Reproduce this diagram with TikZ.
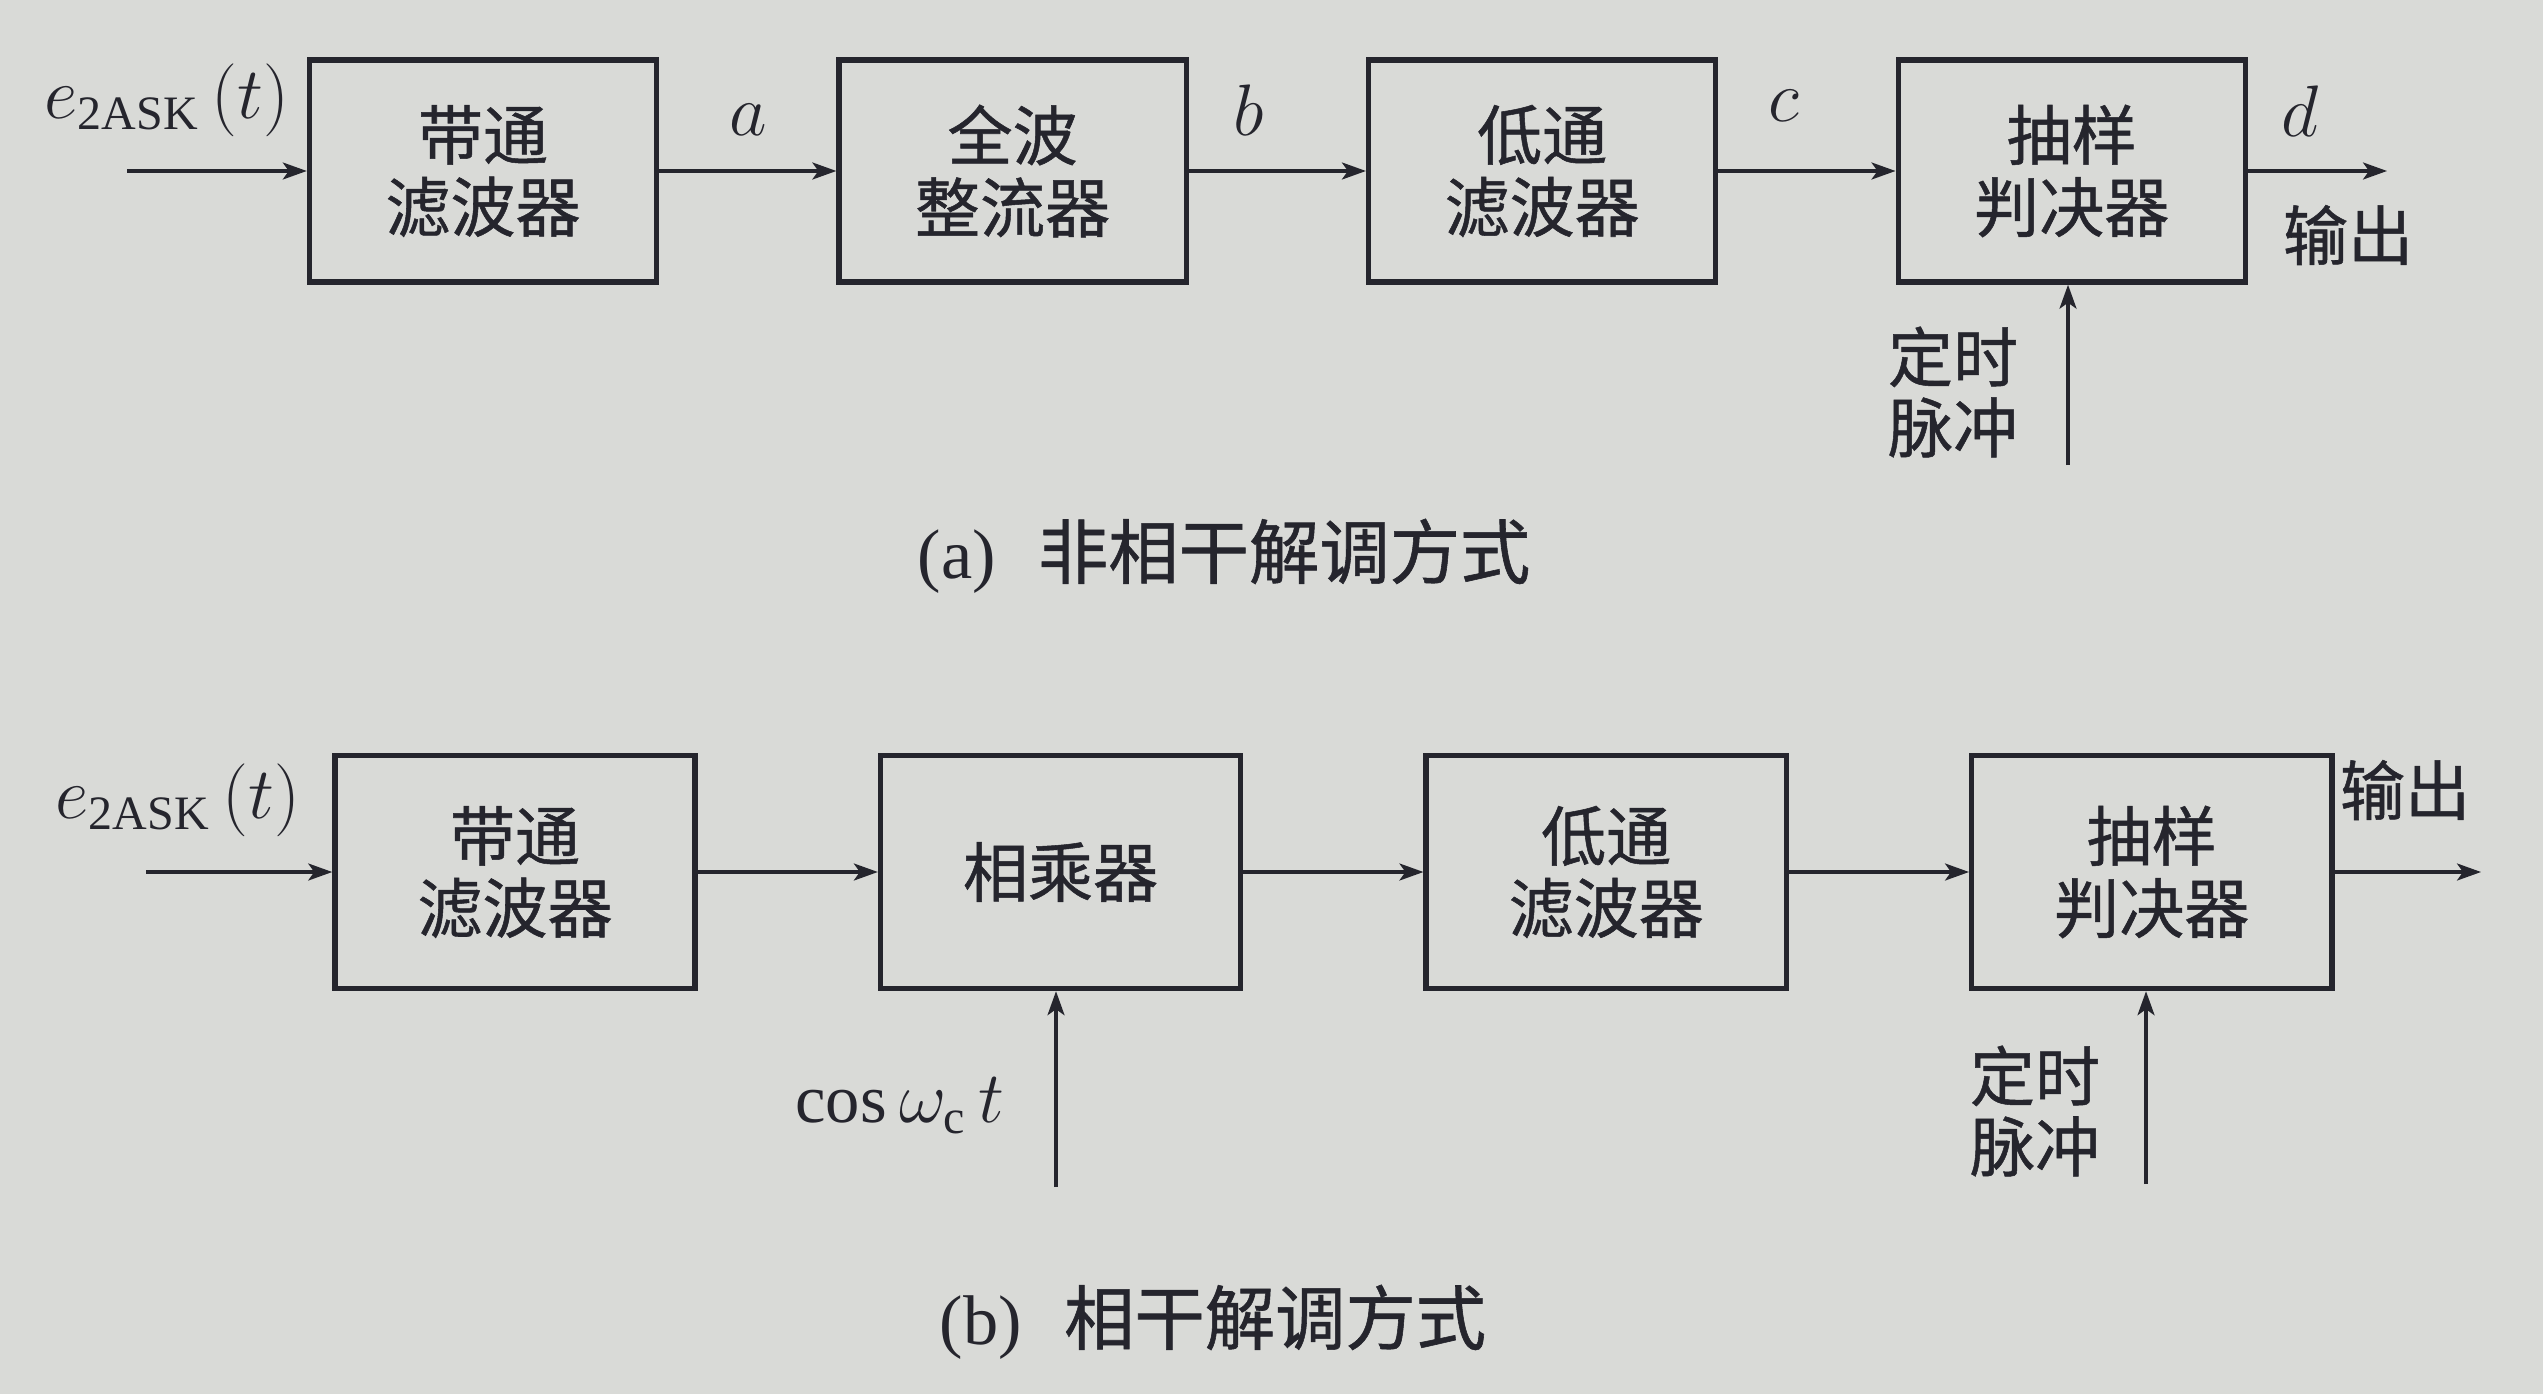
\documentclass[tikz,border=0pt]{standalone}
\usepackage{amsmath}
\usepackage{fontspec}
\setmainfont{Liberation Serif}
\newfontfamily\cjk[FakeBold=0.8]{Noto Sans CJK SC}
\usepackage{tikz}
\usetikzlibrary{arrows.meta,positioning}
\definecolor{paper}{HTML}{D9DAD7}
\definecolor{ink}{HTML}{25252D}

\begin{document}
\begin{tikzpicture}[
  x=0.01cm,y=-0.01cm,
  node distance=5mm and 17.7mm,
  every node/.style={text=ink,font=\cjk\fontsize{18.5}{20.5}\selectfont,align=center},
  box/.style={draw=ink,line width=1.5pt,minimum width=34.7mm,minimum height=22.2mm,inner sep=0pt},
  bigbox/.style={box,minimum width=36mm,minimum height=23.3mm},
  lbl/.style={font=\fontsize{19.5}{22}\selectfont},
  side/.style={font=\cjk\fontsize{18.5}{20}\selectfont},
  captext/.style={font=\cjk\fontsize{20}{22}\selectfont},
  arr/.style={-{Stealth[length=2.4mm,width=1.7mm,inset=0.6mm]},line width=0.9pt,draw=ink}
]
\fill[paper] (0,0) rectangle (2543,1394);
\useasboundingbox (0,0) rectangle (2543,1394);

% (a) non-coherent
\node[box] (bpfa) at (483,171) {带通\\滤波器};
\node[box,right=of bpfa] (rect) {全波\\整流器};
\node[box,right=of rect] (lpfa) {低通\\滤波器};
\node[box,right=of lpfa] (deca) {抽样\\判决器};
\coordinate (ina) at (127,171);
\coordinate (outa) at (2387,171);
\coordinate (clka) at (2068,465);
\draw[arr] (ina) -- (bpfa);
\draw[arr] (bpfa) -- (rect);
\draw[arr] (rect) -- (lpfa);
\draw[arr] (lpfa) -- (deca);
\draw[arr] (deca) -- (outa);
\draw[arr] (clka) -- (clka |- deca.south);
\node[lbl] (sa) at (167,100) {$e_{\mathrm{2ASK}}\,(t)$};
\node[lbl] (la) at (748,120) {$a$};
\node[lbl] (lb) at (1249,110) {$b$};
\node[lbl] (lc) at (1784,106) {$c$};
\node[lbl] (ld) at (2300,111) {$d$};
\node[side] (oa) at (2348,235) {输出};
\node[side] (ta) at (1953,392) {定时\\脉冲};
\node[captext] (capa) at (1224,556) {{\rmfamily (a)}\hspace{0.6em}非相干解调方式};

% (b) coherent
\node[bigbox] (bpfb) at (515,872) {带通\\滤波器};
\node[bigbox,right=18mm of bpfb] (mult) {相乘器};
\node[bigbox,right=18mm of mult] (lpfb) {低通\\滤波器};
\node[bigbox,right=18mm of lpfb] (decb) {抽样\\判决器};
\coordinate (inb) at (146,872);
\coordinate (outb) at (2481,872);
\coordinate (carb) at (1056,1187);
\coordinate (clkb) at (2146,1184);
\draw[arr] (inb) -- (bpfb);
\draw[arr] (bpfb) -- (mult);
\draw[arr] (mult) -- (lpfb);
\draw[arr] (lpfb) -- (decb);
\draw[arr] (decb) -- (outb);
\draw[arr] (carb) -- (carb |- mult.south);
\draw[arr] (clkb) -- (clkb |- decb.south);
\node[lbl] (sb) at (178,800) {$e_{\mathrm{2ASK}}\,(t)$};
\node[lbl] (cs) at (900,1106) {$\cos\omega_{\mathrm{c}}\,t$};
\node[side] (ob) at (2405,790) {输出};
\node[side] (tb) at (2035,1111) {定时\\脉冲};
\node[captext] (capb) at (1213,1322) {{\rmfamily (b)}\hspace{0.6em}相干解调方式};
\end{tikzpicture}
\end{document}
